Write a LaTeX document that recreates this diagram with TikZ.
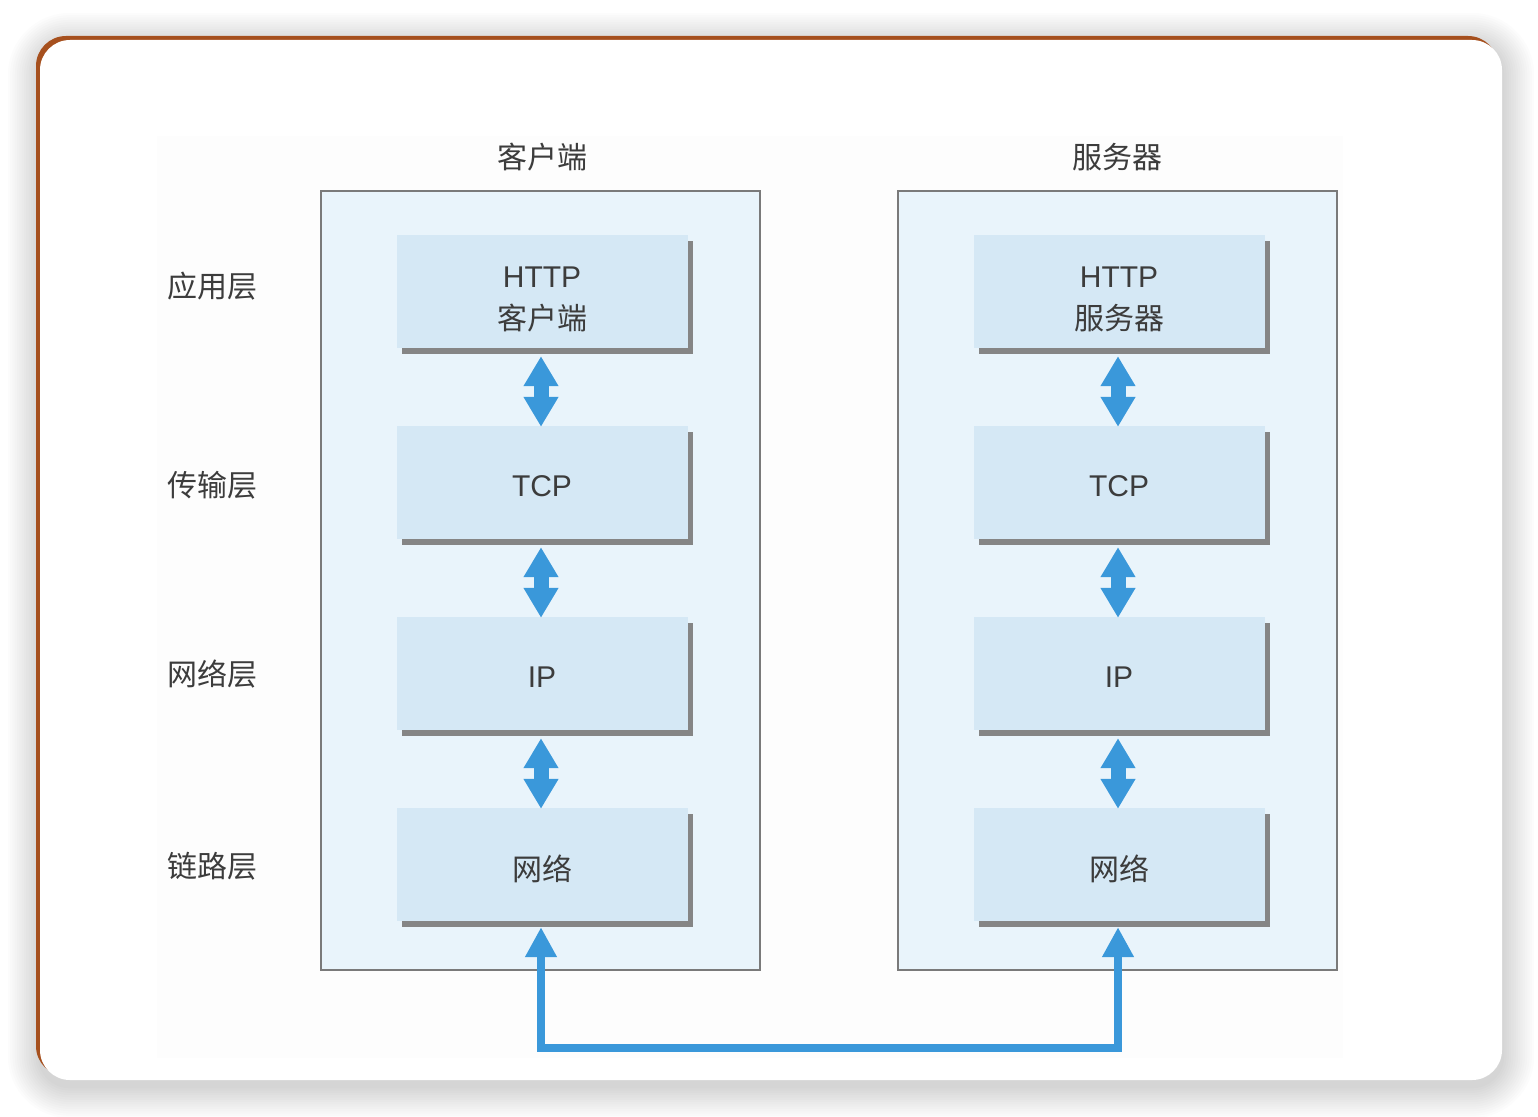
\documentclass[tikz,border=0pt]{standalone}
\usepackage{fontspec}
\setmainfont{Noto Sans CJK SC}
\newfontfamily\lat{Liberation Sans}
\usetikzlibrary{arrows.meta,shadows}
\definecolor{brownedge}{HTML}{A6501E}
\definecolor{outerfill}{HTML}{E9F4FB}
\definecolor{innerfill}{HTML}{D5E8F5}
\definecolor{boxline}{HTML}{7A7A7A}
\definecolor{shadowgray}{HTML}{858585}
\definecolor{arrowblue}{HTML}{3A98DA}
\definecolor{txt}{HTML}{3C3C3C}
\tikzset{
  outerbox/.style={draw=boxline, line width=2pt, fill=outerfill, minimum width=439pt, minimum height=779pt, inner sep=0pt},
  layerbox/.style={fill=innerfill, minimum width=291pt, minimum height=113pt, inner sep=0pt,
    drop shadow={shadow xshift=5pt, shadow yshift=-6pt, opacity=1, fill=shadowgray}},
  boxtext/.style={text=txt, font=\fontsize{30}{42}\selectfont, inner sep=0pt, align=center, yshift=-4pt},
  lbl/.style={text=txt, font=\fontsize{30}{36}\selectfont, inner sep=0pt},
  dblarrow/.style={draw=arrowblue, line width=15pt, {Triangle[width=33pt,length=30pt]}-{Triangle[width=33pt,length=30pt]}},
  linkarrow/.style={draw=arrowblue, line width=8pt, -{Triangle[width=30pt,length=30pt]}}
}
\begin{document}
\begin{tikzpicture}[x=1pt,y=-1pt]
\useasboundingbox (0,0) rectangle (1538,1116);
% card shadow
\foreach \i in {1,...,14} {
  \pgfmathsetmacro{\d}{\i*2.3}
  \pgfmathsetmacro{\r}{30+\i*2.3}
  \fill[black, opacity=0.011, rounded corners=\r pt] ({40-\d},{40-\d+5}) rectangle ({1502+\d},{1080+\d+6});
}
\fill[brownedge, rounded corners=30pt] (36,36) rectangle (1498,1076);
\fill[white, rounded corners=30pt] (40,40) rectangle (1502,1080);
\fill[black!0.6] (157,136) rectangle (1343,1058);

% outer boxes
\node[outerbox] (client) at (540.5,580.5) {};
\node[outerbox] (server) at (1117.5,580.5) {};
\node[lbl] (clientlbl) at (542,157) {客户端};
\node[lbl] (serverlbl) at (1117,157) {服务器};

% layer labels
\node[lbl] (l1) at (212,286) {应用层};
\node[lbl] (l2) at (212,485) {传输层};
\node[lbl] (l3) at (212,674) {网络层};
\node[lbl] (l4) at (212,866) {链路层};

% client stack
\node[layerbox, label={[boxtext, yshift=-4pt]center:{\lat HTTP}\\客户端}] (c1) at (542,291.5) {};
\node[layerbox, label={[boxtext]center:\lat TCP}] (c2) at (542,482.5) {};
\node[layerbox, label={[boxtext]center:\lat IP}] (c3) at (542,673.5) {};
\node[layerbox, label={[boxtext]center:网络}] (c4) at (542,864.5) {};
% server stack
\node[layerbox, label={[boxtext, yshift=-4pt]center:{\lat HTTP}\\服务器}] (s1) at (1119,291.5) {};
\node[layerbox, label={[boxtext]center:\lat TCP}] (s2) at (1119,482.5) {};
\node[layerbox, label={[boxtext]center:\lat IP}] (s3) at (1119,673.5) {};
\node[layerbox, label={[boxtext]center:网络}] (s4) at (1119,864.5) {};

% vertical double arrows
\draw[dblarrow] ([xshift=-1pt,yshift=-8pt]c1.south) -- ([xshift=-1pt,yshift=-1pt]c2.north);
\draw[dblarrow] ([xshift=-1pt,yshift=-8pt]c2.south) -- ([xshift=-1pt,yshift=-1pt]c3.north);
\draw[dblarrow] ([xshift=-1pt,yshift=-8pt]c3.south) -- ([xshift=-1pt,yshift=-1pt]c4.north);
\draw[dblarrow] ([xshift=-1pt,yshift=-8pt]s1.south) -- ([xshift=-1pt,yshift=-1pt]s2.north);
\draw[dblarrow] ([xshift=-1pt,yshift=-8pt]s2.south) -- ([xshift=-1pt,yshift=-1pt]s3.north);
\draw[dblarrow] ([xshift=-1pt,yshift=-8pt]s3.south) -- ([xshift=-1pt,yshift=-1pt]s4.north);

% physical link
\coordinate (bl) at (541,1048);
\coordinate (br) at (1118,1048);
\draw[linkarrow, line join=miter] (bl) -- ([xshift=-1pt,yshift=-6pt]c4.south);
\draw[linkarrow, line join=miter] ([xshift=-4pt]bl) -- ([xshift=4pt]br) (br) -- ([xshift=-1pt,yshift=-6pt]s4.south);
\end{tikzpicture}
\end{document}
